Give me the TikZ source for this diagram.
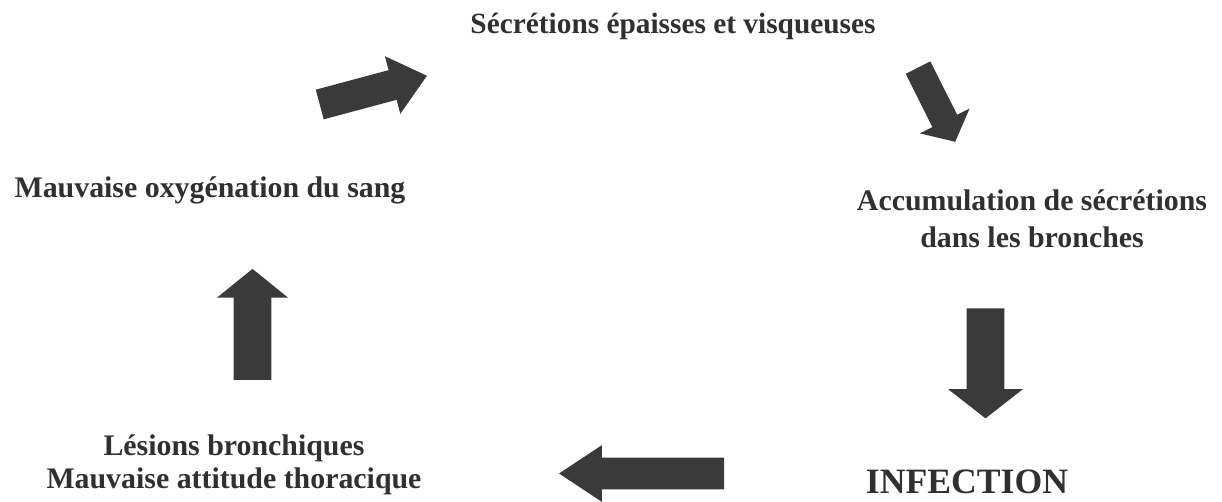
\documentclass[tikz,border=0pt]{standalone}
\usepackage{fontspec}
\setmainfont{Liberation Serif}
\usepackage{tikz}
\usetikzlibrary{shapes, arrows, positioning}
\definecolor{arrowgray}{HTML}{3A3A3A}
\definecolor{textgray}{HTML}{303030}
\tikzstyle{txt} = [text=textgray, inner sep=0pt, align=center, font=\fontsize{17}{20}\selectfont\bfseries]
\tikzstyle{barrow} = [single arrow, fill=arrowgray, draw=none, inner xsep=0pt]

\begin{document}
\begin{tikzpicture}[x=0.02cm, y=-0.02cm]
    \useasboundingbox (0,0) rectangle (1222,501);
    % We start by placing the texts
    \node [txt, anchor=base, font=\fontsize{16.7}{20}\selectfont\bfseries] (secretions) at (673,33) {Sécrétions épaisses et visqueuses};
    \node [txt, anchor=base, font=\fontsize{17}{21}\selectfont\bfseries] (accum) at (1032,247) {Accumulation de sécrétions\\dans les bronches};
    \node [txt, anchor=base, font=\fontsize{20.3}{24}\selectfont\bfseries] (infection) at (967,493) {INFECTION};
    \node [txt, anchor=base, font=\fontsize{17}{18.5}\selectfont\bfseries] (lesions) at (234,488) {Lésions bronchiques\\Mauvaise attitude thoracique};
    \node [txt, anchor=base] (oxygen) at (210,197) {Mauvaise oxygénation du sang};

    % then the block arrows
    \node [barrow, rotate=15, minimum height=2.22cm, inner ysep=0.30cm,
           single arrow head extend=0.29cm, single arrow tip angle=80] (arr1) at (364.5,92.5) {};
    \node [barrow, rotate=-63.4, minimum height=1.66cm, inner ysep=0.27cm,
           single arrow head extend=0.28cm, single arrow tip angle=100] (arr2) at (934,99.5) {};
    \node [barrow, rotate=-90, minimum height=2.20cm, inner ysep=0.37cm,
           single arrow head extend=0.37cm, single arrow tip angle=104] (arr3) at (985.5,356) {};
    \node [barrow, rotate=180, minimum height=3.30cm, inner ysep=0.31cm,
           single arrow head extend=0.25cm, single arrow tip angle=67] (arr4) at (653.5,473.5) {};
    \node [barrow, rotate=90, minimum height=2.22cm, inner ysep=0.37cm,
           single arrow head extend=0.33cm, single arrow tip angle=102] (arr5) at (252.5,332) {};
\end{tikzpicture}
\end{document}
